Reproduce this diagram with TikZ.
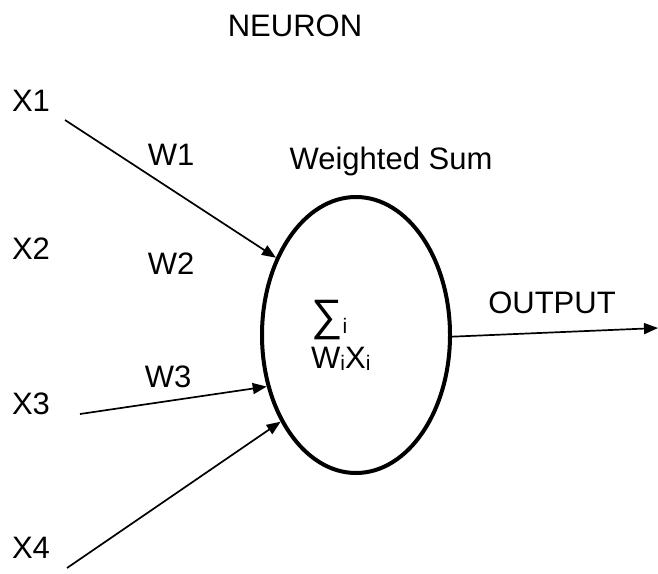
\documentclass[tikz,border=0pt]{standalone}
\usepackage{fontspec}
\setmainfont{Liberation Sans}
\usetikzlibrary{shapes.geometric,arrows.meta}
\begin{document}
\begin{tikzpicture}[x=1pt,y=-1pt,
  lbl/.style={font=\fontsize{31}{34}\selectfont, inner sep=0pt, anchor=center},
  inarrow/.style={line width=1.7pt, -{Triangle[length=14pt,width=11pt]}},
  body/.style={draw, ellipse, line width=4pt, minimum width=188pt, minimum height=276pt, inner sep=0pt}]
\useasboundingbox (0,0) rectangle (658,573);
\node[body] (n) at (356,335) {};
\node[lbl] (title) at (295,26) {NEURON};
\node[lbl] (x1) at (31,101) {X1};
\node[lbl] (x2) at (31,249) {X2};
\node[lbl] (x3) at (31,404) {X3};
\node[lbl] (x4) at (31,548) {X4};
\node[lbl] (w1) at (171,155) {W1};
\node[lbl] (w2) at (171,264) {W2};
\node[lbl] (w3) at (168,377) {W3};
\node[lbl, anchor=base] (ws) at (391,169) {Weighted Sum};
\node[lbl] (out) at (552,303) {OUTPUT};
\node[lbl, anchor=base west] (sum) at (311,337) {\raisebox{7pt}{\fontsize{44}{44}\selectfont ∑}\raisebox{4pt}{\fontsize{21}{22}\selectfont i}};
\node[lbl, anchor=base west] (wx) at (311,368) {W\raisebox{-2pt}{\fontsize{21}{22}\selectfont i}X\raisebox{-2pt}{\fontsize{21}{22}\selectfont i}};
\coordinate (s1) at (65,120);
\coordinate (s3) at (80,414);
\coordinate (s4) at (67,568);
\coordinate (e) at (658,328);
\draw[inarrow] (s1) -- (n.136);
\draw[inarrow] (s3) -- (n.210);
\draw[inarrow] (s4) -- (n.229);
\draw[inarrow] (n.-1) -- (e);
\end{tikzpicture}
\end{document}
